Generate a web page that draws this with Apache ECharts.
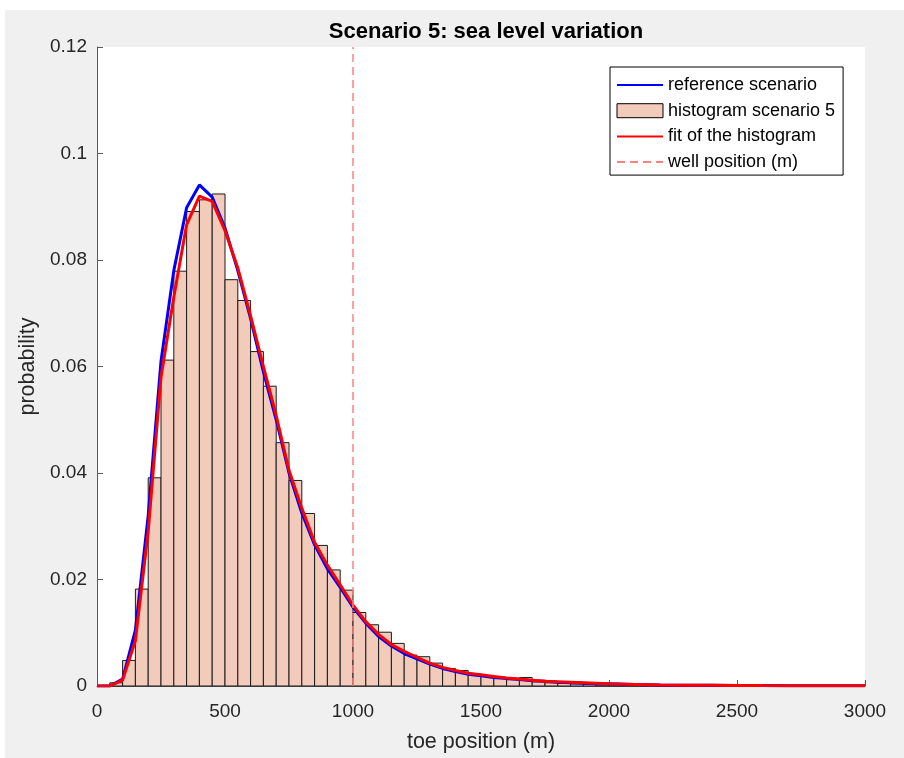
<!DOCTYPE html>
<html>
<head>
<meta charset="utf-8">
<script src="https://cdn.jsdelivr.net/npm/echarts@6/dist/echarts.min.js"></script>
<style>
html,body{margin:0;padding:0;background:#ffffff;}
#chart{position:absolute;left:0;top:0;width:904px;height:758px;}
</style>
</head>
<body>
<div id="chart"></div>
<script>
// ---- data ----
const binWidth = 50;
const binStarts = [50,100,150,200,250,300,350,400,450,500,550,600,650,700,750,800,850,900,950,
  1000,1050,1100,1150,1200,1250,1300,1350,1400,1450,1500,1550,1600,1650,1700,1750,1800,1850,1900,1950,
  2000,2050,2100,2150,2200,2250,2300,2350,2400,2450,2500];
const histValues = [0.0006,0.0048,0.0182,0.0391,0.0612,0.0779,0.0891,0.0913,0.0924,0.0763,0.0724,0.0628,0.0563,0.0457,0.0386,0.0324,0.0264,0.0218,0.0180,
  0.0138,0.0115,0.0101,0.0080,0.0058,0.0055,0.0043,0.0033,0.0029,0.0022,0.0018,0.0015,0.0012,0.0016,0.0008,0.0006,0.0005,0.0004,0.0003,0.0002,
  0.0002,0.0001,0.0001,0.0001,0.0001,0.00005,0.00005,0.00005,0.00003,0.00003,0.00003];

const curveX = [0,50,100,150,200,250,300,350,400,450,500,550,600,650,700,750,800,850,900,950,
  1000,1050,1100,1150,1200,1250,1300,1350,1400,1450,1500,1550,1600,1650,1700,1750,1800,1850,1900,1950,
  2000,2100,2200,2300,2400,2500,2600,2700,2800,2900,3000];
const refValues = [0,0,0.0013,0.0105,0.032,0.061,0.078,0.0898,0.0941,0.0918,0.086,0.078,0.069,0.059,0.050,0.040,0.0325,0.0265,0.0220,0.0185,
  0.0148,0.0118,0.0093,0.0075,0.0061,0.0051,0.0041,0.0033,0.0027,0.0022,0.0019,0.0016,0.0014,0.0012,0.0010,0.0009,0.0007,0.0006,0.0005,0.0004,
  0.0004,0.0003,0.0002,0.00015,0.00012,0.0001,0.00008,0.00006,0.00005,0.00004,0.00003];
const fitValues = [0,0,0.0011,0.0085,0.029,0.058,0.073,0.0866,0.0920,0.0910,0.0855,0.0785,0.0695,0.0600,0.0508,0.0405,0.0334,0.0270,0.0227,0.0190,
  0.0152,0.0121,0.0097,0.0078,0.0065,0.0054,0.0043,0.0035,0.0029,0.0024,0.0021,0.0018,0.0015,0.0013,0.0011,0.0009,0.0008,0.0007,0.0006,0.0005,
  0.0004,0.0003,0.0002,0.00016,0.00013,0.0001,0.00008,0.00007,0.00005,0.00004,0.00003];

const wellPosition = 1000;
const xTicks = [0,500,1000,1500,2000,2500,3000];
const yTicks = [0,0.02,0.04,0.06,0.08,0.1,0.12];

// ---- build ----
const histData = binStarts.map((s,i)=>[s, s+binWidth, histValues[i]]);
const refData = curveX.map((x,i)=>[x, refValues[i]]);
const fitData = curveX.map((x,i)=>[x, fitValues[i]]);
const wellData = [[wellPosition, yTicks[0]], [wellPosition, yTicks[yTicks.length-1]]];

const FONT = '"Liberation Sans", Arial, sans-serif';
const TXT = '#262626';
const AX = '#5a5a5a';

const chart = echarts.init(document.getElementById('chart'), null, {renderer:'canvas'});
chart.setOption({
  backgroundColor: '#ffffff',
  animation: false,
  graphic: [{type:'rect', z:-10, silent:true, shape:{x:5,y:10,width:899,height:748}, style:{fill:'#f0f0f0'}}],
  title: {
    text: 'Scenario 5: sea level variation',
    left: 481, top: 16, textAlign: 'center',
    textStyle: {fontFamily: FONT, fontSize: 22, fontWeight: 'bold', color: '#000'}
  },
  legend: {
    orient: 'vertical', left: 610, top: 67,
    backgroundColor: '#ffffff', borderColor: '#000', borderWidth: 1,
    padding: [9, 8, 4, 6], itemGap: 7.7, itemWidth: 46, itemHeight: 14,
    textStyle: {fontFamily: FONT, fontSize: 18, color: '#000'},
    data: [
      {name:'reference scenario', itemStyle:{opacity:0}},
      {name:'histogram scenario 5', icon:'rect', itemStyle:{color:'#f3cbbb', borderColor:'#000', borderWidth:1}},
      {name:'fit of the histogram', itemStyle:{opacity:0}},
      {name:'well position (m)', itemStyle:{opacity:0}}
    ]
  },
  grid: {left: 97, right: 39, top: 47, bottom: 71, show: true, backgroundColor:'#ffffff', borderWidth:0},
  xAxis: {
    type: 'value', min: 0, max: 3000, interval: 500,
    name: 'toe position (m)', nameLocation: 'middle', nameGap: 45,
    nameTextStyle: {fontFamily: FONT, fontSize: 21.5, color: TXT},
    axisLine: {show:true, onZero:false, lineStyle:{color: AX, width:1}},
    axisTick: {show:true, inside:true, length:6, lineStyle:{color: AX}},
    axisLabel: {fontFamily: FONT, fontSize: 19, color: TXT, margin: 16,
      formatter: v => String(v)},
    splitLine: {show:false}
  },
  yAxis: {
    type: 'value', min: 0, max: 0.12, interval: 0.02,
    name: 'probability', nameLocation: 'middle', nameGap: 53, nameRotate: 90,
    nameTextStyle: {fontFamily: FONT, fontSize: 21.5, color: TXT},
    axisLine: {show:true, onZero:false, lineStyle:{color: AX, width:1}},
    axisTick: {show:true, inside:true, length:6, lineStyle:{color: AX}},
    axisLabel: {fontFamily: FONT, fontSize: 19, color: TXT, margin: 10,
      formatter: v => (Math.round(v*100)/100).toString()},
    splitLine: {show:false}
  },
  series: [
    {
      name: 'histogram scenario 5', type: 'custom', z: 2,
      data: histData,
      encode: {x:[0,1], y:2},
      itemStyle: {color:'#f3cbbb', borderColor:'#000', borderWidth:1},
      renderItem: function(params, api){
        const x0 = api.value(0), x1 = api.value(1), y = api.value(2);
        const p0 = api.coord([x0, y]);
        const p1 = api.coord([x1, 0]);
        return {type:'rect',
          shape:{x:p0[0], y:p0[1], width:p1[0]-p0[0], height:p1[1]-p0[1]},
          style:{fill:'#f3cbbb', stroke:'#1a1a1a', lineWidth:1}};
      }
    },
    {
      name: 'reference scenario', type: 'line', z: 3, data: refData,
      showSymbol: false, symbol: 'none', smooth: false,
      itemStyle: {color:'#0000ff'},
      lineStyle: {color:'#0000ff', width:3}
    },
    {
      name: 'fit of the histogram', type: 'line', z: 4, data: fitData,
      showSymbol: false, symbol: 'none', smooth: false,
      itemStyle: {color:'#ff0000'},
      lineStyle: {color:'#ff0000', width:3}
    },
    {
      name: 'well position (m)', type: 'line', z: 5, data: wellData,
      showSymbol: false, symbol: 'none',
      itemStyle: {color:'#ff8080'},
      lineStyle: {color:'#ff8080', width:1.5, type:[8,5]}
    }
  ]
});
</script>
</body>
</html>
